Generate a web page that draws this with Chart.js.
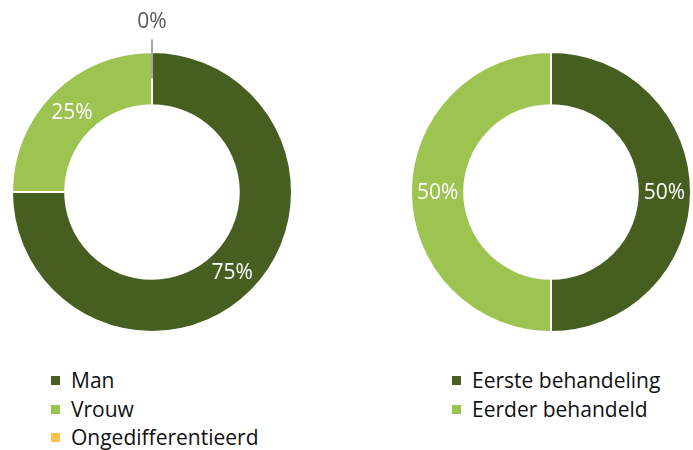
<!DOCTYPE html>
<html>
<head>
<meta charset="utf-8">
<script src="https://cdn.jsdelivr.net/npm/chart.js@4/dist/chart.umd.min.js"></script>
<style>
  body { margin: 0; background: #fff; font-family: "Open Sans", sans-serif; }
  #wrap { position: relative; width: 693px; height: 450px; overflow: hidden; }
  .box { position: absolute; top: 0; width: 346px; height: 345px; }
  .legend { position: absolute; font-size: 21px; color: #111; }
  .legend div { position: relative; height: 28.5px; line-height: 28.5px; padding-left: 20px; white-space: nowrap; }
  .legend span { position: absolute; left: 0; top: 10px; width: 9px; height: 9px; }
</style>
</head>
<body>
<div id="wrap">
  <div class="box" style="left:0"><canvas id="genderChart"></canvas></div>
  <div class="box" style="left:346px"><canvas id="treatChart"></canvas></div>
  <div class="legend" id="genderLegend" style="left:51px; top:366px"></div>
  <div class="legend" id="treatLegend" style="left:452px; top:366px"></div>
</div>
<script>
// left chart
const genderLabels = ['Man', 'Vrouw', 'Ongedifferentieerd'];
const genderValues = [75, 25, 0];
const genderColors = ['#465e1f', '#9dc451', '#ffc04d'];

// right chart
const treatLabels = ['Eerste behandeling', 'Eerder behandeld'];
const treatValues = [50, 50];
const treatColors = ['#465e1f', '#9dc451'];

// percentage labels on the ring, zero values get a leader line above
const ringLabels = {
    id: 'ringLabels',
    afterDatasetsDraw(chart) {
        const ctx = chart.ctx;
        const meta = chart.getDatasetMeta(0);
        const values = chart.data.datasets[0].data;
        ctx.save();
        ctx.font = '21px "Open Sans"';
        ctx.textAlign = 'center';
        ctx.textBaseline = 'middle';
        meta.data.forEach((arc, i) => {
            const text = values[i] + '%';
            const pos = arc.tooltipPosition();
            if (values[i] === 0) {
                ctx.strokeStyle = '#a6a6a6';
                ctx.lineWidth = 2;
                ctx.beginPath();
                ctx.moveTo(pos.x, pos.y);
                ctx.lineTo(pos.x, pos.y - 39);
                ctx.stroke();
                ctx.fillStyle = '#595959';
                ctx.fillText(text, pos.x, pos.y - 57);
            } else {
                ctx.fillStyle = '#ffffff';
                ctx.fillText(text, pos.x, pos.y + 1);
            }
        });
        ctx.restore();
    }
};

function makeDoughnut(id, labels, values, colors, padding) {
    const ctx = document.getElementById(id).getContext('2d');
    return new Chart(ctx, {
        type: 'doughnut',
        data: {
            labels: labels,
            datasets: [{
                data: values,
                backgroundColor: colors,
                borderColor: '#ffffff',
                borderWidth: 2
            }]
        },
        options: {
            responsive: true,
            maintainAspectRatio: false,
            animation: false,
            cutout: '62%',
            layout: { padding: padding },
            plugins: {
                legend: { display: false },
                tooltip: { enabled: false }
            }
        },
        plugins: [ringLabels]
    });
}

function makeLegend(id, labels, colors) {
    const el = document.getElementById(id);
    labels.forEach((name, i) => {
        const row = document.createElement('div');
        const sq = document.createElement('span');
        sq.style.background = colors[i];
        row.appendChild(sq);
        row.appendChild(document.createTextNode(name));
        el.appendChild(row);
    });
}

makeDoughnut('genderChart', genderLabels, genderValues, genderColors,
    { left: 11, top: 51, right: 53, bottom: 12 });
makeDoughnut('treatChart', treatLabels, treatValues, treatColors,
    { left: 64, top: 51, right: 0, bottom: 12 });

makeLegend('genderLegend', genderLabels, genderColors);
makeLegend('treatLegend', treatLabels, treatColors);
</script>
</body>
</html>
